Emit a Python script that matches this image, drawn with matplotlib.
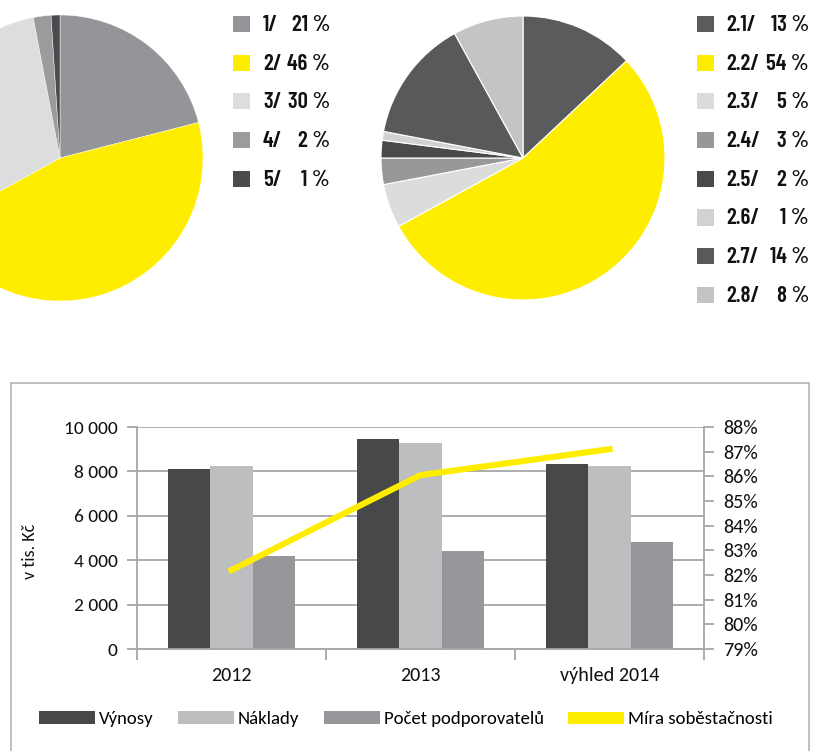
import numpy as np
import matplotlib
matplotlib.use("Agg")
import matplotlib.pyplot as plt
from matplotlib.patches import Rectangle
from matplotlib.ticker import FuncFormatter, FixedLocator

# --- data ---
pie1_names = ["1", "2", "3", "4", "5"]
pie1_vals = [21, 46, 30, 2, 1]
pie1_colors = ["#939598", "#ffed00", "#dcdddd", "#9a9b9c", "#4b4b4d"]

pie2_names = ["2.1", "2.2", "2.3", "2.4", "2.5", "2.6", "2.7", "2.8"]
pie2_vals = [13, 54, 5, 3, 2, 1, 14, 8]
pie2_colors = ["#5a5b5d", "#ffed00", "#dcdcdc", "#97989a", "#4a4a4c",
               "#d1d2d3", "#58595b", "#c3c4c6"]

years = ["2012", "2013", "výhled 2014"]
vynosy = [8100, 9480, 8330]
naklady = [8250, 9300, 8250]
podporovatele = [4200, 4430, 4830]
sobestacnost = [82.2, 86.05, 87.1]

bar_colors = ["#48484a", "#bdbec0", "#96979a"]
yellow = "#ffed00"
grid_col = "#a6a6a6"

W, H = 814, 751
fig = plt.figure(figsize=(W / 100, H / 100), dpi=100)


def box(x0, y0, x1, y1):
    # pixel box (top-left origin) -> figure rect
    return [x0 / W, 1 - y1 / H, (x1 - x0) / W, (y1 - y0) / H]


din = ["Barlow Condensed", "Roboto Condensed", "DejaVu Sans"]
cal = ["Carlito", "Lato", "DejaVu Sans"]

# --- pies ---
def draw_pie(cx, cy, r, vals, colors, lw):
    ax = fig.add_axes(box(cx - r, cy - r, cx + r, cy + r))
    ax.pie(vals, colors=colors, startangle=90, counterclock=False,
           wedgeprops=dict(edgecolor="white", linewidth=lw))
    ax.set_xlim(-1, 1)
    ax.set_ylim(-1, 1)
    ax.axis("off")
    return ax

draw_pie(60, 158, 143, pie1_vals, pie1_colors, 0.3)
draw_pie(523, 158, 142, pie2_vals, pie2_colors, 0.8)

# legends next to pies
def pie_legend(x_sq, x_txt, x_right, names, vals, colors):
    for i, (n, v, c) in enumerate(zip(names, vals, colors)):
        yc = 24 + i * 38.7
        fig.add_artist(Rectangle((x_sq / W, 1 - (yc + 8) / H), 17 / W, 16 / H,
                                 transform=fig.transFigure, color=c, lw=0))
        fig.text(x_txt / W, 1 - (yc + 1) / H, f"{n}/", ha="left", va="center",
                 fontsize=16.5, fontweight=600, family=din, color="#111111")
        fig.text(x_right / W, 1 - (yc + 1) / H, f"{v} %", ha="right", va="center",
                 fontsize=16.5, fontweight=600, family=din, color="#111111")

pie_legend(233, 263, 330, pie1_names, pie1_vals, pie1_colors)
pie_legend(697, 726, 809, pie2_names, pie2_vals, pie2_colors)

# --- bottom chart frame ---
fig.add_artist(Rectangle((11 / W, 1 - 770 / H), 798 / W, 387 / H,
                         transform=fig.transFigure, fill=False,
                         edgecolor="#b5b5b5", lw=1.2))

ax = fig.add_axes(box(137, 427, 704, 649))
x = np.arange(len(years))
bw = 0.224
b1 = ax.bar(x - bw, vynosy, bw, color=bar_colors[0], label="Výnosy", zorder=2)
b2 = ax.bar(x, naklady, bw, color=bar_colors[1], label="Náklady", zorder=2)
b3 = ax.bar(x + bw, podporovatele, bw, color=bar_colors[2],
            label="Počet podporovatelů", zorder=2)

ax.set_xlim(-0.5, 2.5)
ax.set_ylim(0, 10000)
ax.set_yticks(np.arange(0, 10001, 2000))
ax.yaxis.set_major_formatter(FuncFormatter(lambda v, p: f"{v:,.0f}".replace(",", " ")))
ax.grid(axis="y", color=grid_col, lw=1.3, zorder=0)
ax.set_xticks(x)
ax.set_xticklabels(years)
ax.xaxis.set_minor_locator(FixedLocator([-0.5, 0.5, 1.5, 2.5]))
ax.tick_params(axis="x", which="major", length=0, pad=13)
ax.tick_params(axis="x", which="minor", length=8, color=grid_col, width=1.3)
ax.tick_params(axis="y", length=7, color=grid_col, width=1.3, pad=7)
ax.spines["top"].set_visible(False)
for s in ["left", "bottom", "right"]:
    ax.spines[s].set_color(grid_col)
    ax.spines[s].set_linewidth(1.3)
for lab in ax.get_yticklabels():
    lab.set_fontfamily(cal)
    lab.set_fontsize(14)
    lab.set_color("#111111")
for lab in ax.get_xticklabels():
    lab.set_fontfamily(cal)
    lab.set_fontsize(14.5)
    lab.set_color("#111111")
ax.set_ylabel("v tis. Kč", fontsize=13, family=cal, color="#111111")
ax.yaxis.set_label_coords(-0.175, 0.44)

ax2 = ax.twinx()
ln, = ax2.plot(x, sobestacnost, color=yellow, lw=4.4, solid_capstyle="projecting",
               label="Míra soběstačnosti", zorder=3)
ax2.set_ylim(79, 88)
ax2.set_yticks(np.arange(79, 89, 1))
ax2.yaxis.set_major_formatter(FuncFormatter(lambda v, p: f"{v:.0f}%"))
ax2.tick_params(axis="y", length=7, color=grid_col, width=1.3, pad=7)
for s in ax2.spines.values():
    s.set_visible(False)
for lab in ax2.get_yticklabels():
    lab.set_fontfamily(cal)
    lab.set_fontsize(14.5)
    lab.set_color("#111111")

leg = fig.legend([b1, b2, b3, ln],
                 ["Výnosy", "Náklady", "Počet podporovatelů", "Míra soběstačnosti"],
                 loc="center", bbox_to_anchor=(406 / W, 1 - 719 / H), ncol=4,
                 frameon=False, handlelength=3.0, handleheight=0.7,
                 handletextpad=0.2, columnspacing=1.3,
                 prop=dict(family=cal, size=13.5))
leg.get_lines()[0].set_linewidth(8.6)
leg.get_lines()[0].set_solid_capstyle("butt")

fig.savefig("out.png", dpi=100)
